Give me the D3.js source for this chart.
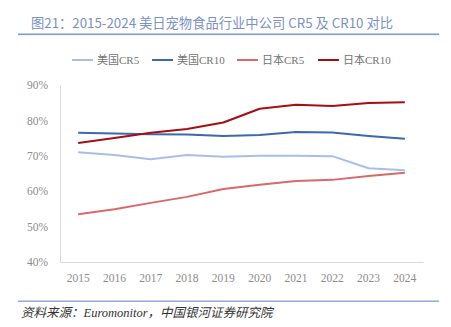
<!DOCTYPE html>
<html>
<head>
<meta charset="utf-8">
<script src="https://cdn.jsdelivr.net/npm/d3@7"></script>
<style>
  body { margin: 0; background: #fff; }
  svg { display: block; }
</style>
</head>
<body>
<div class="chart-area"></div>
<script>
// data
var years = ['2015', '2016', '2017', '2018', '2019', '2020', '2021', '2022', '2023', '2024']
var usCR5 = [71.0, 70.2, 69.0, 70.2, 69.7, 70.0, 70.0, 69.9, 66.5, 65.9]
var usCR10 = [76.5, 76.3, 76.1, 76.0, 75.6, 75.9, 76.7, 76.6, 75.6, 74.8]
var jpCR5 = [53.5, 54.9, 56.7, 58.4, 60.6, 61.8, 62.9, 63.2, 64.3, 65.2]
var jpCR10 = [73.6, 75.0, 76.5, 77.6, 79.4, 83.3, 84.4, 84.1, 84.9, 85.1]
var yTicks = [40, 50, 60, 70, 80, 90]

var seriesList = [
  { name: '美国CR5', values: usCR5, color: '#a7bfe8' },
  { name: '美国CR10', values: usCR10, color: '#3d67b1' },
  { name: '日本CR5', values: jpCR5, color: '#d9686a' },
  { name: '日本CR10', values: jpCR10, color: '#a50e12' }
]

var width = 451
var height = 327
var serif = '"Liberation Serif", "DejaVu Serif", "Noto Sans CJK SC", serif'
var sans = '"Noto Sans CJK SC", "DejaVu Sans", sans-serif'

var svg = d3.select('.chart-area').append('svg')
  .attr('width', width)
  .attr('height', height)

// title
svg.append('text')
  .attr('x', 31)
  .attr('y', 28)
  .attr('font-family', sans)
  .attr('font-size', '13.3px')
  .attr('fill', '#7b90c6')
  .text('图21：2015-2024 美日宠物食品行业中公司 CR5 及 CR10 对比')

svg.append('rect')
  .attr('x', 18).attr('y', 33.5)
  .attr('width', 421).attr('height', 1.6)
  .attr('fill', '#7f9ccf')

// scales
var plotLeft = 60
var plotRight = 423
var plotTop = 85
var plotBottom = 262

var x = d3.scaleBand().domain(years).range([plotLeft, plotRight])
var y = d3.scaleLinear().domain([40, 90]).range([plotBottom, plotTop])

// y axis
var yAxis = svg.append('g')
  .attr('transform', 'translate(' + plotLeft + ',0)')
  .call(d3.axisLeft(y).tickValues(yTicks).tickSize(0).tickPadding(12).tickFormat(function (d) { return d + '%' }))
yAxis.select('.domain').attr('stroke', '#d9d9d9')
yAxis.selectAll('text')
  .attr('font-family', serif)
  .attr('font-size', '11.5px')
  .attr('fill', '#8c8c8c')

// x axis
var xAxis = svg.append('g')
  .attr('transform', 'translate(0,' + plotBottom + ')')
  .call(d3.axisBottom(x).tickSize(0).tickPadding(12))
xAxis.select('.domain').attr('stroke', '#d9d9d9')
xAxis.selectAll('text')
  .attr('font-family', serif)
  .attr('font-size', '11.5px')
  .attr('fill', '#8c8c8c')

// lines
var line = d3.line()
  .x(function (d, i) { return x(years[i]) + x.bandwidth() / 2 })
  .y(function (d) { return y(d) })

seriesList.forEach(function (s) {
  svg.append('path')
    .attr('d', line(s.values))
    .attr('fill', 'none')
    .attr('stroke', s.color)
    .attr('stroke-width', 2)
    .attr('stroke-linejoin', 'round')
})

// legend
var legendX = [72, 152, 237, 318]
seriesList.forEach(function (s, i) {
  var g = svg.append('g').attr('transform', 'translate(' + legendX[i] + ',60)')
  g.append('line')
    .attr('x1', 0).attr('x2', 21)
    .attr('y1', 0).attr('y2', 0)
    .attr('stroke', s.color)
    .attr('stroke-width', 2)
  g.append('text')
    .attr('x', 25)
    .attr('y', 4)
    .attr('font-family', serif)
    .attr('font-size', '11px')
    .attr('fill', '#737373')
    .text(s.name)
})

// footer
svg.append('rect')
  .attr('x', 18).attr('y', 300.5)
  .attr('width', 421).attr('height', 1.4)
  .attr('fill', '#8fa3cf')

svg.append('text')
  .attr('x', 21)
  .attr('y', 317)
  .attr('font-family', serif)
  .attr('font-style', 'italic')
  .attr('font-size', '12.5px')
  .attr('fill', '#333')
  .text('资料来源：Euromonitor，中国银河证券研究院')
</script>
</body>
</html>
